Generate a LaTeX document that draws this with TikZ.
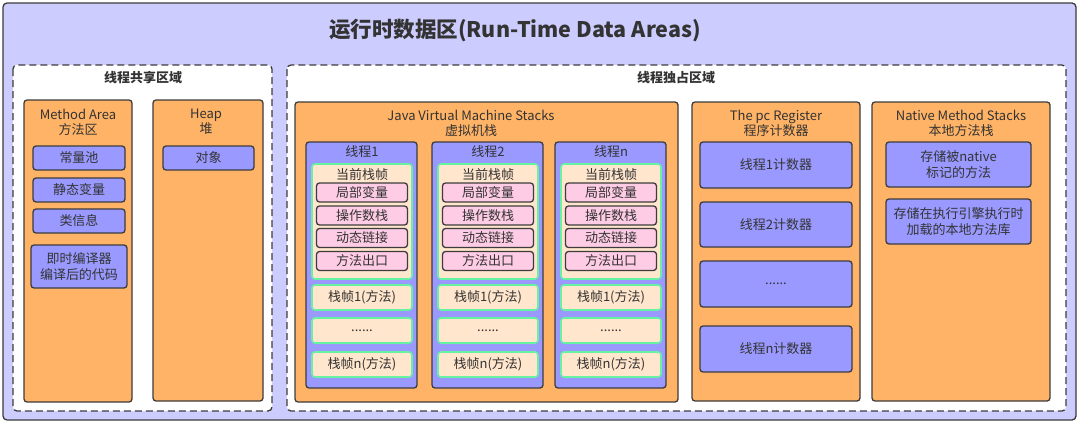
\documentclass[tikz,border=0pt]{standalone}
\usepackage{fontspec}
\setmainfont{Noto Sans CJK SC}
\usetikzlibrary{positioning}
\definecolor{AreaOuter}{HTML}{CCCCFF}
\definecolor{AreaOrange}{HTML}{FFB366}
\definecolor{AreaBlue}{HTML}{9999FF}
\definecolor{AreaPink}{HTML}{FFCCE6}
\definecolor{AreaPeach}{HTML}{FFE6CC}
\definecolor{AreaGreen}{HTML}{66F2A0}
\definecolor{AreaLine}{HTML}{3C3C3C}
\definecolor{AreaText}{HTML}{333333}

\begin{document}
\begin{tikzpicture}[x=1pt,y=-1pt,
    every node/.style={text=AreaText, inner sep=0pt},
    region/.style={draw=AreaLine, fill=AreaOrange, line width=1.3pt, rounded corners=3pt},
    zone/.style={draw=AreaLine, fill=white, line width=1.3pt, rounded corners=4pt, dash pattern=on 7pt off 4pt},
    itembox/.style={draw=AreaLine, fill=AreaBlue, line width=1.3pt, rounded corners=3pt, align=center,
        font=\fontsize{13}{16}\selectfont},
    slotbox/.style={draw=AreaLine, fill=AreaPink, line width=1.3pt, rounded corners=3pt,
        minimum width=91pt, minimum height=19pt, font=\fontsize{13}{15}\selectfont},
    framebox/.style={draw=AreaGreen, fill=AreaPeach, line width=1.6pt, rounded corners=3pt,
        minimum width=100pt, minimum height=25pt, font=\fontsize{13}{15}\selectfont},
    heading/.style={align=center, font=\fontsize{13}{15}\selectfont}]
    \useasboundingbox (0,0) rectangle (1080,423);

    % Run-time data areas
    \draw[fill=AreaOuter, draw=AreaLine, line width=1.3pt, rounded corners=4pt] (3,3) rectangle (1076,420);
    \node[font=\fontsize{21.5}{25}\selectfont\bfseries] (title) at (515,31) {运行时数据区(Run-Time Data Areas)};

    % Shared zone
    \draw[zone] (13,65) rectangle (272,411);
    \node[font=\fontsize{13}{15}\selectfont\bfseries] (shared) at (143,78) {线程共享区域};

    % Method area
    \draw[region] (24,100) rectangle (132,402);
    \node[heading] (method) at (78,122) {Method Area\\方法区};
    \node[itembox, minimum width=92pt, minimum height=24pt] (pool) at (79,158) {常量池};
    \node[itembox, minimum width=92pt, minimum height=24pt] (static) at (79,190) {静态变量};
    \node[itembox, minimum width=92pt, minimum height=24pt] (classinfo) at (79,221) {类信息};
    \node[itembox, minimum width=96pt, minimum height=43pt] (jit) at (79,266.5) {即时编译器\\编译后的代码};

    % Heap
    \draw[region] (153,100) rectangle (263,401);
    \node[heading] (heap) at (206,122) {Heap\\堆};
    \node[itembox, minimum width=91pt, minimum height=24pt] (object) at (208.5,158) {对象};

    % Private zone
    \draw[zone] (287,65) rectangle (1066,411);
    \node[font=\fontsize{13}{15}\selectfont\bfseries] (private) at (676,78) {线程独占区域};

    % Java virtual machine stacks
    \draw[region] (295,102) rectangle (678,402);
    \node[heading] (jvm) at (471,123) {Java Virtual Machine Stacks\\虚拟机栈};
    \foreach \x/\n in {306/1,432/2,555/n}{
        \draw[draw=AreaLine, fill=AreaBlue, line width=1.3pt, rounded corners=3pt] (\x,142) rectangle ({\x+111},388);
        \node[font=\fontsize{13}{15}\selectfont] (thread\n) at ({\x+56},152) {线程\n};
        \draw[draw=AreaGreen, fill=AreaPeach, line width=1.6pt, rounded corners=3pt] ({\x+6},164) rectangle ({\x+106},279);
        \node[font=\fontsize{13}{15}\selectfont] (cur\n) at ({\x+56},174.5) {当前栈帧};
        \node[slotbox] (local\n) at ({\x+56},192.5) {局部变量};
        \node[slotbox] (operand\n) at ({\x+56},215.5) {操作数栈};
        \node[slotbox] (link\n) at ({\x+56},238) {动态链接};
        \node[slotbox] (exit\n) at ({\x+56},261) {方法出口};
        \node[framebox] (frameA\n) at ({\x+56},297.5) {栈帧1(方法)};
        \node[framebox] (frameB\n) at ({\x+56},330.5) {......};
        \node[framebox] (frameC\n) at ({\x+56},364.5) {栈帧n(方法)};
    }

    % The pc register
    \draw[region] (692,102) rectangle (860,401);
    \node[heading] (pc) at (776,123) {The pc Register\\程序计数器};
    \node[itembox, minimum width=152pt, minimum height=46pt] (pcA) at (776,165) {线程1计数器};
    \node[itembox, minimum width=152pt, minimum height=45pt] (pcB) at (776,224.5) {线程2计数器};
    \node[itembox, minimum width=152pt, minimum height=46pt] (pcC) at (776,284) {......};
    \node[itembox, minimum width=152pt, minimum height=46pt] (pcD) at (776,349) {线程n计数器};

    % Native method stacks
    \draw[region] (872,102) rectangle (1050,401);
    \node[heading] (native) at (961,123) {Native Method Stacks\\本地方法栈};
    \node[itembox, minimum width=145pt, minimum height=45pt] (nativeA) at (958.5,164.5) {存储被native\\标记的方法};
    \node[itembox, minimum width=145pt, minimum height=45pt] (nativeB) at (958.5,221.5) {存储在执行引擎执行时\\加载的本地方法库};
\end{tikzpicture}
\end{document}
